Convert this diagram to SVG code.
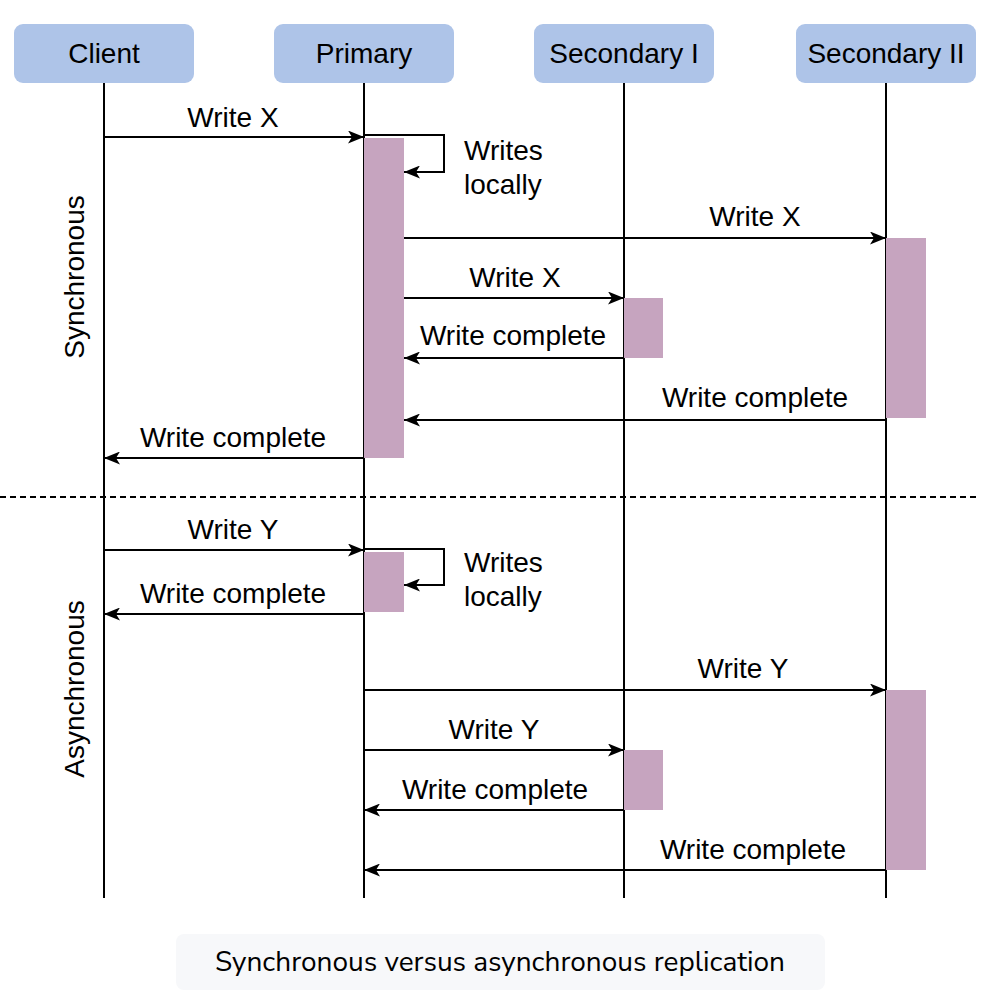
<svg xmlns="http://www.w3.org/2000/svg" width="994" height="1002" viewBox="0 0 994 1002">
<defs>
<marker id="ah" markerUnits="userSpaceOnUse" markerWidth="17" markerHeight="13" refX="16" refY="6.5" orient="auto">
<path d="M0,0 L16,6.5 L0,13 L4,6.5 z" fill="#000"/>
</marker>
<style>
.hd{fill:#AEC4E8;stroke:none}
.ht{font-family:"Liberation Sans",Arial,sans-serif;font-size:28px;fill:#000;text-anchor:middle}
.ll{stroke:#000;stroke-width:2;fill:none}
.act{fill:#C6A4BF;stroke:none}
.msg{stroke:#000;stroke-width:2;fill:none;marker-end:url(#ah)}
.lb{font-family:"Liberation Sans",Arial,sans-serif;font-size:28px;fill:#000;text-anchor:middle}
.lbl{font-family:"Liberation Sans",Arial,sans-serif;font-size:28px;fill:#000}
.cap{font-family:"Nunito Sans","Noto Sans",Lato,sans-serif;font-size:28px;fill:#000;text-anchor:middle}
</style>
</defs>
<rect width="994" height="1002" fill="#fff"/>
<g id="lifelines">
<line class="ll" x1="104" y1="83" x2="104" y2="898"/>
<line class="ll" x1="364" y1="83" x2="364" y2="898"/>
<line class="ll" x1="624" y1="83" x2="624" y2="898"/>
<line class="ll" x1="886" y1="83" x2="886" y2="898"/>
</g>
<g id="client"><rect class="hd" x="14" y="24" width="180" height="59" rx="9"/><text class="ht" x="104" y="63">Client</text></g>
<g id="primary"><rect class="hd" x="274" y="24" width="180" height="59" rx="9"/><text class="ht" x="364" y="63">Primary</text></g>
<g id="secondary1"><rect class="hd" x="534" y="24" width="180" height="59" rx="9"/><text class="ht" x="624" y="63">Secondary I</text></g>
<g id="secondary2"><rect class="hd" x="796" y="24" width="180" height="59" rx="9"/><text class="ht" x="886" y="63">Secondary II</text></g>
<g id="activations">
<rect class="act" x="364" y="138" width="40" height="320"/>
<rect class="act" x="624" y="298" width="39" height="60"/>
<rect class="act" x="886" y="238" width="40" height="180"/>
<rect class="act" x="364" y="552" width="40" height="60"/>
<rect class="act" x="624" y="750" width="39" height="60"/>
<rect class="act" x="886" y="690" width="40" height="180"/>
</g>
<g id="section-labels">
<text class="lb" transform="translate(84,277) rotate(-90)">Synchronous</text>
<text class="lb" transform="translate(84,689) rotate(-90)">Asynchronous</text>
<line x1="0" y1="497" x2="980" y2="497" stroke="#000" stroke-width="2" stroke-dasharray="6,4"/>
</g>
<g id="connectors">
<path class="msg" d="M104,137 H364"/>
<path class="msg" d="M364,135 H444 V172 H404"/>
<path class="msg" d="M404,238 H886"/>
<path class="msg" d="M404,298 H624"/>
<path class="msg" d="M624,358 H404"/>
<path class="msg" d="M886,420 H404"/>
<path class="msg" d="M364,458 H104"/>
<path class="msg" d="M104,550 H364"/>
<path class="msg" d="M364,549 H444 V585 H404"/>
<path class="msg" d="M364,614 H104"/>
<path class="msg" d="M364,690 H886"/>
<path class="msg" d="M364,750 H624"/>
<path class="msg" d="M624,810 H364"/>
<path class="msg" d="M886,870 H364"/>
</g>
<g id="labels">
<text class="lb" x="233" y="127">Write X</text>
<text class="lbl" x="464" y="160">Writes</text>
<text class="lbl" x="464" y="194">locally</text>
<text class="lb" x="755" y="226">Write X</text>
<text class="lb" x="515" y="287">Write X</text>
<text class="lb" x="513" y="345">Write complete</text>
<text class="lb" x="755" y="407">Write complete</text>
<text class="lb" x="233" y="447">Write complete</text>
<text class="lb" x="233" y="539">Write Y</text>
<text class="lbl" x="464" y="572">Writes</text>
<text class="lbl" x="464" y="606">locally</text>
<text class="lb" x="233" y="603">Write complete</text>
<text class="lb" x="743" y="678">Write Y</text>
<text class="lb" x="494" y="739">Write Y</text>
<text class="lb" x="495" y="799">Write complete</text>
<text class="lb" x="753" y="859">Write complete</text>
</g>
<g id="caption">
<rect x="176" y="934" width="649" height="56" rx="8" fill="#F7F8FA"/>
<text class="cap" x="500" y="971">Synchronous versus asynchronous replication</text>
</g>
</svg>
